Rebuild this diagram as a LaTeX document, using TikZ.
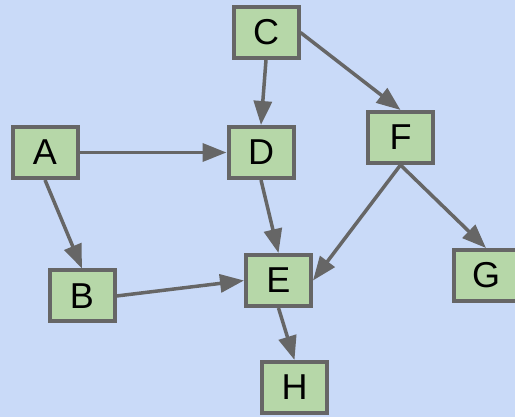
\documentclass[tikz,border=0pt]{standalone}
\usepackage{fontspec}
\setmainfont{Liberation Sans}
\usetikzlibrary{arrows.meta}
\definecolor{bgblue}{HTML}{C9DAF8}
\definecolor{boxgreen}{HTML}{B6D7A8}
\definecolor{edgegray}{HTML}{666666}
\begin{document}
\begin{tikzpicture}[x=1pt,y=-1pt,
  box/.style={draw=edgegray,fill=boxgreen,line width=4pt,
    minimum width=65pt,minimum height=51pt,inner sep=0pt,
    font=\fontsize{36}{36}\selectfont},
  link/.style={draw=edgegray,line width=3.5pt,
    -{Triangle[length=24pt,width=18pt]}}]
\fill[bgblue] (0,0) rectangle (515,417);
\useasboundingbox (0,0) rectangle (515,417);

\node[box] (A) at (45,152.5)  {A};
\node[box] (B) at (82,296)  {B};
\node[box] (C) at (266,32.5)  {C};
\node[box] (D) at (261,152.5)  {D};
\node[box] (E) at (278.5,280.5)  {E};
\node[box] (F) at (400.5,137.5)  {F};
\node[box] (G) at (486,275.5)  {G};
\node[box] (H) at (294.5,387.5)  {H};

\draw[link] (A.east) -- (D.west);
\draw[link] (A.south) -- (B.north);
\draw[link] (C.south) -- (D.north);
\draw[link] (C.east) -- (F.north);
\draw[link] (D.south) -- (E.north);
\draw[link] (B.east) -- (E.west);
\draw[link] (F.south) -- (E.east);
\draw[link] (F.south) -- (G.north);
\draw[link] (E.south) -- (H.north);
\end{tikzpicture}
\end{document}
